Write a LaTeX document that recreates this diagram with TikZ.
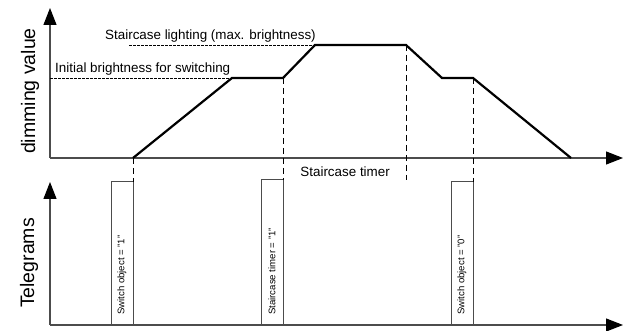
\documentclass[tikz,border=0pt]{standalone}
\usepackage{fontspec}
\setmainfont{Liberation Sans}
\usetikzlibrary{arrows.meta}
\usetikzlibrary{positioning}

\begin{document}
\begin{tikzpicture}[x=1pt,y=1pt]
    \tikzstyle{axis}=[draw=black!70, line width=1.1pt, -{Triangle[length=17pt,width=13pt,black]}];
    \tikzstyle{ramp}=[draw, line width=2.2pt, line join=miter];
    \tikzstyle{guide}=[draw, line width=0.9pt, dash pattern=on 6pt off 4pt];
    \tikzstyle{level}=[draw, line width=0.7pt, dash pattern=on 2.5pt off 1.5pt];
    \tikzstyle{pulse}=[draw=black!70, line width=1pt];
    \tikzstyle{tag}=[font=\fontsize{9.6}{11}\selectfont, rotate=90, anchor=west, inner sep=0pt];
    \tikzstyle{note}=[font=\fontsize{13.4}{15}\selectfont, inner sep=0pt];
    \tikzstyle{title}=[font=\fontsize{19.5}{22}\selectfont, rotate=90, inner sep=0pt];
    \useasboundingbox (0,0) rectangle (628,331);
    % axes
    \coordinate (o1) at (50,173);
    \coordinate (o2) at (50,6);
    \draw[axis] (o1) -- (50,323);
    \draw[axis] (o1) -- (623,173);
    \draw[axis] (o2) -- (50,149);
    \draw[axis] (o2) -- (623,6);
    \node[title] (dim) at (30,240) {dimming value};
    \node[title] (tel) at (29,68) {Telegrams};
    % dimming curve
    \coordinate (a) at (133,173);
    \coordinate (b) at (232,253);
    \coordinate (c) at (283,253);
    \coordinate (d) at (315,286);
    \coordinate (e) at (406,286);
    \coordinate (f) at (442,253);
    \coordinate (g) at (473,253);
    \coordinate (h) at (571,173);
    \draw[ramp] (a) -- (b) -- (c) -- (d) -- (e) -- (f) -- (g) -- (h);
    \coordinate (l1) at (50,253);
    \coordinate (l2) at (129,286);
    \draw[level] (l1) -- (b);
    \draw[level] (l2) -- (d);
    \node[note, anchor=base west] (init) at (55,258) {Initial brightness for switching};
    \node[note, anchor=base west] (max) at (105,291) {Staircase lighting (max. brightness)};
    % telegrams
    \foreach \i/\l/\r/\t/\txt in {1/111/133/149/{Switch object = "1"},
                                  2/261/283/151/{Staircase timer = "1"},
                                  3/451/473/149/{Switch object = "0"}} {
      \coordinate (s\i) at (\r,\t);
      \draw[pulse] (\l,6) -- (\l,\t) -- (s\i) -- (\r,6);
      \pgfmathsetmacro{\m}{(\l+\r)/2}
      \node[tag] (t\i) at (\m,16) {\txt};
    }
    \coordinate (tend) at (406,151);
    \draw[guide] (a) -- (s1);
    \draw[guide] (c) -- (s2);
    \draw[guide] (e) -- (tend);
    \draw[guide] (g) -- (s3);
    \node[note, anchor=base east] (timer) at (390,154) {Staircase timer};
\end{tikzpicture}
\end{document}
